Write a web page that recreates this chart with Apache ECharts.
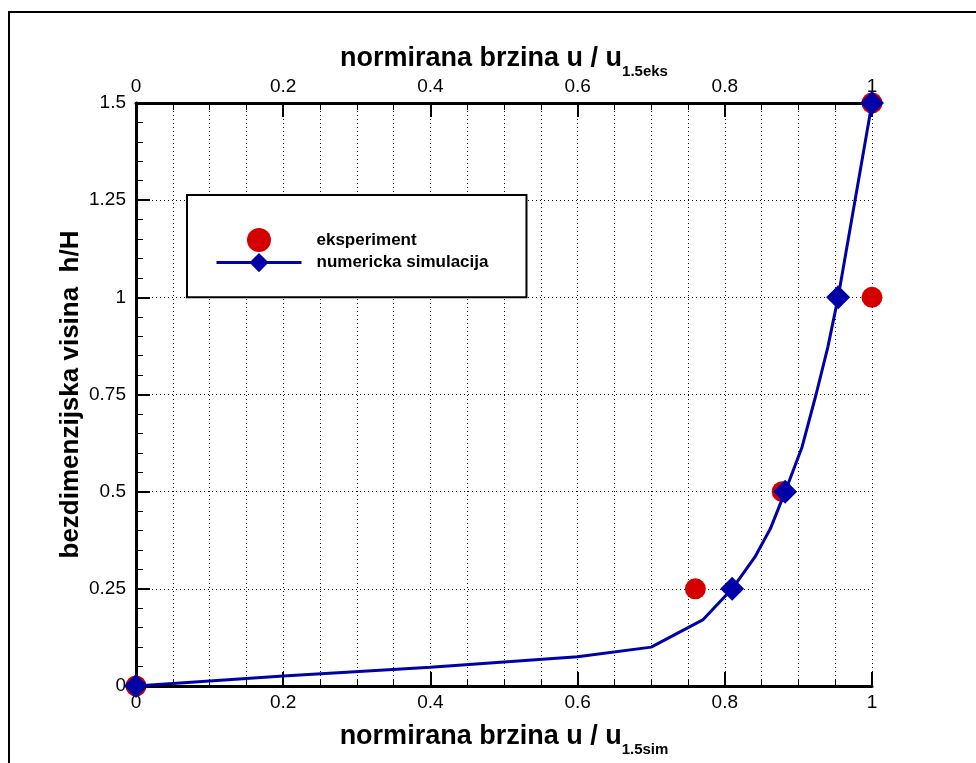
<!DOCTYPE html>
<html>
<head>
<meta charset="utf-8">
<script src="https://cdn.jsdelivr.net/npm/echarts@6/dist/echarts.min.js"></script>
<style>html,body{margin:0;padding:0;background:#fff}#c{width:976px;height:763px}</style>
</head>
<body>
<div id="c"></div>
<script>
// Data
const seriesNames = ['eksperiment', 'numericka simulacija'];
const experimentU = [0, 0.76, 0.878, 1.0, 1.0];
const experimentH = [0, 0.25, 0.5, 1.0, 1.5];
const simulationU = [0, 0.2, 0.4, 0.6, 0.7, 0.77, 0.81, 0.841, 0.862, 0.882, 0.905, 0.924, 0.94, 0.954, 1.0];
const simulationH = [0, 0.026, 0.048, 0.075, 0.1, 0.17, 0.25, 0.332, 0.405, 0.5, 0.615, 0.75, 0.872, 1.0, 1.5];
const simulationMarked = [true, false, false, false, false, false, true, false, false, true, false, false, false, true, true];
const xTitleBottom = ['normirana brzina u / u', '1.5sim'];
const xTitleTop = ['normirana brzina u / u', '1.5eks'];
const yTitle = 'bezdimenzijska visina  h/H';

const RED = '#d40000';
const BLUE = '#0000a8';
const FONT = '"Liberation Sans", Arial, sans-serif';

const expData = experimentU.map((u, i) => [u, experimentH[i]]);
const simData = simulationU.map((u, i) => simulationMarked[i]
  ? { value: [u, simulationH[i]] }
  : { value: [u, simulationH[i]], symbol: 'none' });

function richName(parts) {
  return '{a|' + parts[0] + '}{b|' + parts[1] + '}';
}
const nameRich = {
  a: { fontFamily: FONT, fontWeight: 'bold', fontSize: 27, color: '#000', verticalAlign: 'bottom', padding: [0, 0, 7, 0] },
  b: { fontFamily: FONT, fontWeight: 'bold', fontSize: 15, color: '#000', verticalAlign: 'bottom' }
};

const chart = echarts.init(document.getElementById('c'));
const axisCommon = {
  type: 'value', min: 0, max: 1, interval: 0.2,
  axisLine: { show: true, onZero: false, lineStyle: { color: '#000', width: 3 } },
  axisTick: { show: true, inside: true, length: 14, lineStyle: { color: '#000', width: 2 } },
  minorTick: { show: true, splitNumber: 4, length: 7, lineStyle: { color: '#000', width: 1 } },
  axisLabel: { color: '#000', fontFamily: FONT, fontSize: 19, margin: 7 },
  nameLocation: 'middle',
  nameMoveOverlap: false,
  nameTextStyle: { rich: nameRich }
};
chart.setOption({
  animation: false,
  backgroundColor: '#fff',
  grid: { left: 136, right: 104, top: 103, bottom: 77, containLabel: false },
  graphic: [{
    type: 'rect', z: -10, silent: true,
    shape: { x: 9, y: 12, width: 1000, height: 800 },
    style: { fill: 'none', stroke: '#000', lineWidth: 2 }
  }],
  legend: {
    orient: 'vertical',
    left: 187, top: 195,
    padding: [33, 38, 25, 28],
    itemGap: 1,
    itemWidth: 85, itemHeight: 24,
    backgroundColor: '#fff',
    borderColor: '#000', borderWidth: 2,
    lineStyle: { width: 3 },
    textStyle: { fontFamily: FONT, fontWeight: 'bold', fontSize: 17, color: '#000', padding: [0, 0, 0, 10] },
    data: seriesNames
  },
  xAxis: [
    Object.assign({}, axisCommon, {
      position: 'bottom',
      name: richName(xTitleBottom), nameGap: 37,
      splitLine: { show: true, lineStyle: { color: '#000', type: [1, 3], width: 1 } },
      minorSplitLine: { show: true, lineStyle: { color: '#000', type: [1, 3], width: 1 } }
    }),
    Object.assign({}, axisCommon, {
      position: 'top',
      name: richName(xTitleTop), nameGap: 24,
      splitLine: { show: false },
      minorSplitLine: { show: false }
    })
  ],
  yAxis: {
    type: 'value', min: 0, max: 1.5, interval: 0.25,
    axisLine: { show: true, onZero: false, lineStyle: { color: '#000', width: 3 } },
    axisTick: { show: true, inside: true, length: 14, lineStyle: { color: '#000', width: 2 } },
    minorTick: { show: true, splitNumber: 5, length: 7, lineStyle: { color: '#000', width: 1 } },
    axisLabel: { color: '#000', fontFamily: FONT, fontSize: 19, margin: 10 },
    splitLine: { show: true, lineStyle: { color: '#000', type: [1, 3], width: 1 } },
    name: yTitle, nameLocation: 'middle', nameGap: 52, nameMoveOverlap: false,
    nameTextStyle: { fontFamily: FONT, fontWeight: 'bold', fontSize: 26, color: '#000' }
  },
  series: [
    {
      name: seriesNames[0], type: 'scatter', xAxisIndex: 0,
      data: expData, symbol: 'circle', symbolSize: 21, clip: false, z: 3,
      itemStyle: { color: RED, opacity: 1 }
    },
    {
      name: seriesNames[1], type: 'line', xAxisIndex: 0,
      data: simData, symbol: 'diamond', symbolSize: 24, showAllSymbol: true, clip: false, z: 4,
      lineStyle: { color: BLUE, width: 3 },
      itemStyle: { color: BLUE, borderWidth: 0 }
    }
  ]
});
</script>
</body>
</html>
